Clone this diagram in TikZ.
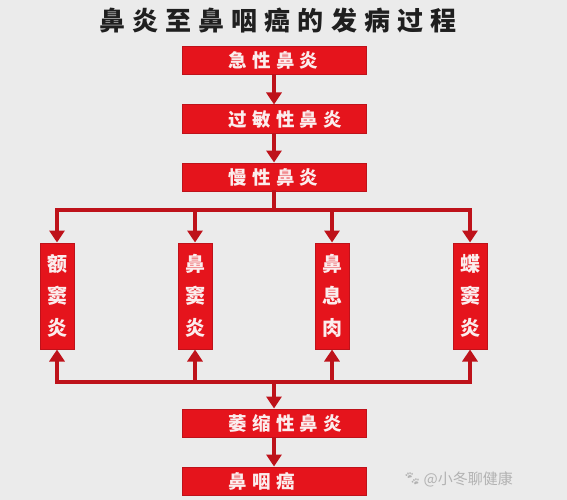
\documentclass[tikz,border=0pt]{standalone}
\usepackage{fontspec}
\newfontfamily\cjkt{Noto Sans CJK SC}[LetterSpace=27]
\newfontfamily\cjkb{Noto Sans CJK SC}[LetterSpace=28]
\newfontfamily\cjk{Noto Sans CJK SC}
\newfontfamily\emo{Noto Emoji}
\usetikzlibrary{arrows.meta}
\definecolor{bg}{HTML}{EBEBEB}
\definecolor{boxred}{HTML}{E5141C}
\definecolor{linered}{HTML}{BE121A}
\definecolor{txt}{HTML}{FBEDED}
\begin{document}
\begin{tikzpicture}[x=1pt,y=-1pt,
  hbox/.style={draw=linered, fill=boxred, line width=1pt, minimum width=184pt, minimum height=28pt, inner sep=0pt},
  vbox/.style={draw=linered, fill=boxred, line width=1pt, minimum width=34pt, minimum height=106pt, inner sep=0pt,
    text=txt, align=center, font={\cjk\bfseries\fontsize{20}{32}\selectfont}},
  htext/.style={anchor=west, inner sep=0pt, text=txt, font={\cjkb\bfseries\fontsize{18.5}{18.5}\selectfont}},
  ln/.style={draw=linered, line width=4pt, line cap=rect},
  arr/.style={draw=linered, line width=4pt, -{Triangle[width=15pt,length=12pt]}},
]
\fill[bg] (0,0) rectangle (567,500);
\node[font={\cjkt\bfseries\fontsize{26}{26}\selectfont}, text=black!88, inner sep=0pt] (title) at (278,21) {鼻炎至鼻咽癌的发病过程};

\node[hbox] (b1) at (274,60.5) {};
\node[hbox] (b2) at (274,119) {};
\node[hbox] (b3) at (274,177) {};
\node[hbox] (b4) at (274,423) {};
\node[hbox] (b5) at (274,481) {};
\node[htext] (t1) at ([xshift=47pt]b1.west) {急性鼻炎};
\node[htext] (t2) at ([xshift=47pt]b2.west) {过敏性鼻炎};
\node[htext] (t3) at ([xshift=47pt]b3.west) {慢性鼻炎};
\node[htext] (t4) at ([xshift=47pt]b4.west) {萎缩性鼻炎};
\node[htext] (t5) at ([xshift=47pt]b5.west) {鼻咽癌};

\node[vbox] (v1) at (57,296) {额\\窦\\炎};
\node[vbox] (v2) at (195,296) {鼻\\窦\\炎};
\node[vbox] (v3) at (332,296) {鼻\\息\\肉};
\node[vbox] (v4) at (470,296) {蝶\\窦\\炎};

\draw[arr] (b1) -- (b2);
\draw[arr] (b2) -- (b3);
\coordinate (tl) at (57,210);
\coordinate (tr) at (470,210);
\coordinate (bl) at (57,382);
\coordinate (br) at (470,382);
\draw[ln] (b3.south) -- (b3.south |- tl);
\draw[ln] (tl) -- (tr);
\foreach \v in {v1,v2,v3,v4}{
  \draw[arr] (\v.north |- tl) -- (\v.north);
  \draw[arr] (\v.south |- bl) -- (\v.south);
}
\draw[ln] (bl) -- (br);
\draw[arr] (b4.north |- bl) -- (b4.north);
\draw[arr] (b4) -- (b5);

\node[anchor=east, inner sep=0pt, text=black!30, font={\cjk\fontsize{15}{15}\selectfont}] (wm) at (513,479) {@小冬聊健康};
\node[anchor=east, inner sep=0pt, text=black!30, font={\emo\fontsize{14}{14}\selectfont}] (paw) at ([xshift=-2pt]wm.west) {🐾};
\end{tikzpicture}
\end{document}
